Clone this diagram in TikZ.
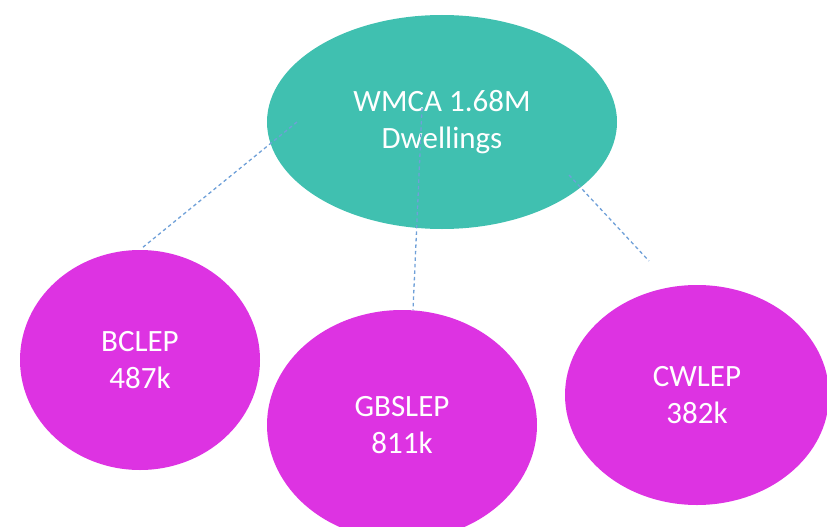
\documentclass[tikz,border=0pt]{standalone}
\usepackage{fontspec}
\setmainfont{Carlito}
\usetikzlibrary{shapes.geometric}
\definecolor{teal1}{HTML}{40C0B0}
\definecolor{mag1}{HTML}{DD33E2}
\definecolor{dashblue}{HTML}{6FA0D8}
\begin{document}
\begin{tikzpicture}[x=1pt,y=-1pt,
  bubble/.style={ellipse, draw=none, inner sep=0pt, text=white, align=center, font=\fontsize{31}{37}\selectfont},
  link/.style={draw=dashblue, line width=1.3pt, dash pattern=on 3.5pt off 3pt}]
\useasboundingbox (0,0) rectangle (827,527);
\clip (0,0) rectangle (827,527);
\node[bubble, fill=teal1, minimum width=350pt, minimum height=214pt] (wmca) at (442,122) {WMCA 1.68M\\Dwellings};
\node[bubble, fill=mag1, minimum width=240pt, minimum height=220pt] (bclep) at (140,360) {BCLEP\\487k};
\node[bubble, fill=mag1, minimum width=270pt, minimum height=230pt] (gbslep) at (402,425) {GBSLEP\\811k};
\node[bubble, fill=mag1, minimum width=264pt, minimum height=220pt] (cwlep) at (697,395) {CWLEP\\382k};
\coordinate (a1) at (297,122);
\coordinate (a2) at (142,248);
\coordinate (b1) at (422,108);
\coordinate (b2) at (413,310);
\coordinate (c1) at (569,175);
\coordinate (c2) at (649,261);
\draw[link] (a1) -- (a2);
\draw[link] (b1) -- (b2);
\draw[link] (c1) -- (c2);
\end{tikzpicture}
\end{document}
